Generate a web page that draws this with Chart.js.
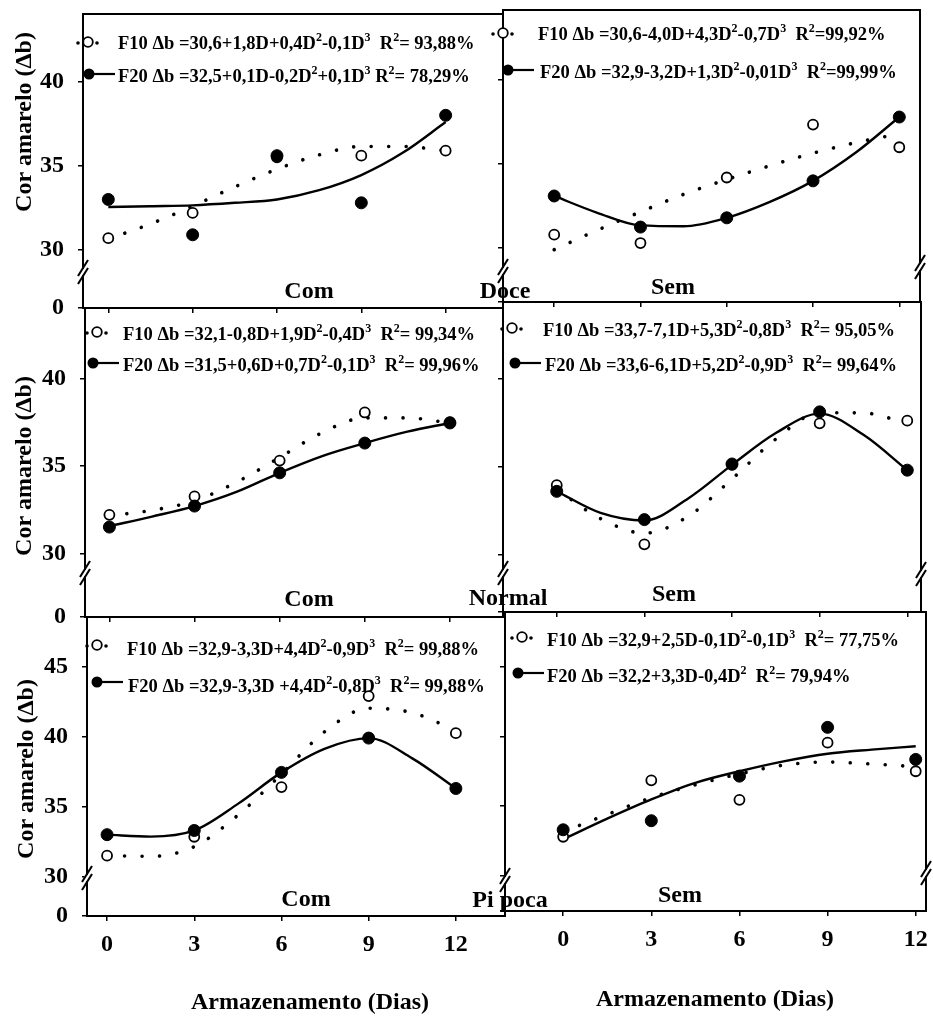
<!DOCTYPE html>
<html><head><meta charset="utf-8">
<script src="https://cdn.jsdelivr.net/npm/chart.js@4.4.1/dist/chart.umd.min.js"></script>
<style>
html,body{margin:0;padding:0;background:#fff;}
#wrap{position:relative;width:933px;height:1017px;overflow:hidden;background:#fff;}
#wrap canvas{position:absolute;left:0;top:0;}
</style></head><body><div id="wrap"></div>
<script>
// ---------------- data ----------------
const days = [0, 3, 6, 9, 12];
const fitDays = [0, 1.5, 3, 4.5, 6, 7.5, 9, 10.5, 12];
const xTickValues = [0, 3, 6, 9, 12];
const xTickLabels = ['0', '3', '6', '9', '12'];
const yTickValues = [30, 35, 40];
const yTickValuesPipoca = [30, 35, 40, 45];
const yBreakLabel = '0';

const groupNames = ['Doce', 'Normal', 'Pi poca'];
const treatmentNames = ['Com', 'Sem'];
const yAxisTitle = 'Cor amarelo (\u0394b)';
const xAxisTitle = 'Armazenamento (Dias)';

// Doce - Com
const doceComF10 = [30.7, 32.2, 35.5, 35.6, 35.9];
const doceComF20 = [33.0, 30.9, 35.6, 32.8, 38.0];
const doceComF10Fit = [30.65, 31.55, 32.6, 33.75, 34.8, 35.65, 36.15, 36.15, 35.9];
const doceComF20Fit = [32.55, 32.6, 32.65, 32.8, 33.0, 33.55, 34.45, 35.8, 37.6];
const legendDoceCom = ['F10 \u0394b =30,6+1,8D+0,4D\u00b2-0,1D\u00b3  R\u00b2= 93,88%',
                       'F20 \u0394b =32,5+0,1D-0,2D\u00b2+0,1D\u00b3 R\u00b2= 78,29%'];
// Doce - Sem
const doceSemF10 = [30.8, 30.3, 34.2, 37.35, 36.0];
const doceSemF20 = [33.1, 31.25, 31.8, 34.0, 37.8];
const doceSemF10Fit = [29.9, 31.07, 32.15, 33.2, 34.08, 34.9, 35.65, 36.28, 36.8];
const doceSemF20Fit = [33.1, 32.1, 31.35, 31.3, 31.8, 32.75, 34.0, 35.7, 37.8];
const legendDoceSem = ['F10 \u0394b =30,6-4,0D+4,3D\u00b2-0,7D\u00b3  R\u00b2=99,92%',
                       'F20 \u0394b =32,9-3,2D+1,3D\u00b2-0,01D\u00b3  R\u00b2=99,99%'];
// Normal - Com
const normalComF10 = [32.2, 33.25, 35.3, 38.05, 37.5];
const normalComF20 = [31.5, 32.7, 34.6, 36.3, 37.45];
const normalComF10Fit = [32.15, 32.46, 33.0, 34.08, 35.48, 36.9, 37.74, 37.74, 37.45];
const normalComF20Fit = [31.55, 32.1, 32.7, 33.52, 34.6, 35.56, 36.3, 36.95, 37.45];
const legendNormalCom = ['F10 \u0394b =32,1-0,8D+1,9D\u00b2-0,4D\u00b3  R\u00b2= 99,34%',
                         'F20 \u0394b =31,5+0,6D+0,7D\u00b2-0,1D\u00b3  R\u00b2= 99,96%'];
// Normal - Sem
const normalSemF10 = [33.95, 30.6, 35.1, 37.45, 37.6];
const normalSemF20 = [33.6, 32.0, 35.15, 38.1, 34.8];
const normalSemF10Fit = [33.7, 32.06, 31.23, 32.19, 34.3, 36.56, 38.05, 38.04, 37.45];
const normalSemF20Fit = [33.6, 32.38, 31.95, 33.2, 35.1, 36.9, 38.0, 36.8, 34.8];
const legendNormalSem = ['F10 \u0394b =33,7-7,1D+5,3D\u00b2-0,8D\u00b3  R\u00b2= 95,05%',
                         'F20 \u0394b =33,6-6,1D+5,2D\u00b2-0,9D\u00b3  R\u00b2= 99,64%'];
// Pipoca - Com
const pipocaComF10 = [31.5, 32.85, 36.4, 42.9, 40.25];
const pipocaComF20 = [33.0, 33.3, 37.45, 39.9, 36.3];
const pipocaComF10Fit = [31.5, 31.45, 32.15, 34.39, 37.33, 40.38, 42.03, 41.71, 40.45];
const pipocaComF20Fit = [33.0, 32.86, 33.3, 35.2, 37.45, 39.15, 39.9, 38.45, 36.3];
const legendPipocaCom = ['F10 \u0394b =32,9-3,3D+4,4D\u00b2-0,9D\u00b3  R\u00b2= 99,88%',
                         'F20 \u0394b =32,9-3,3D +4,4D\u00b2-0,8D\u00b3  R\u00b2= 99,88%'];
// Pipoca - Sem
const pipocaSemF10 = [32.8, 36.85, 35.45, 39.55, 37.5];
const pipocaSemF20 = [33.3, 33.95, 37.15, 40.65, 38.35];
const pipocaSemF10Fit = [33.15, 34.4, 35.6, 36.53, 37.31, 37.94, 38.16, 38.02, 37.83];
const pipocaSemF20Fit = [32.62, 34.1, 35.48, 36.67, 37.5, 38.21, 38.76, 39.05, 39.29];
const legendPipocaSem = ['F10 \u0394b =32,9+2,5D-0,1D\u00b2-0,1D\u00b3  R\u00b2= 77,75%',
                         'F20 \u0394b =32,2+3,3D-0,4D\u00b2  R\u00b2= 79,94%'];

// ---------------- layout / style ----------------
const FONT = '"Liberation Serif", "Times New Roman", serif';
Chart.defaults.font.family = FONT;
Chart.defaults.color = '#000';

const panels = [
  { area: [83, 14, 503, 308], xr: [-0.9, 14.04], yr: [26.55, 44.02], yTicks: yTickValues,
    yLabels: true, xLabels: false, right: false,
    f10: doceComF10, f20: doceComF20, f10Fit: doceComF10Fit, f20Fit: doceComF20Fit,
    legend: legendDoceCom, leg: [[88, 42, 118, 43], [89, 74, 118, 76]],
    label: [treatmentNames[0], 309, 298], breakL: 272, breakR: 271,
    yTitle: [25, 122] },
  { area: [503, 10, 920, 302], xr: [-1.78, 12.72], yr: [26.79, 44.17], yTicks: yTickValues,
    yLabels: false, xLabels: false, right: true,
    f10: doceSemF10, f20: doceSemF20, f10Fit: doceSemF10Fit, f20Fit: doceSemF20Fit,
    legend: legendDoceSem, leg: [[503, 33, 538, 34], [508, 70, 540, 72]],
    label: [treatmentNames[1], 673, 294], group: [groupNames[0], 505, 298],
    breakL: 271, breakR: 267 },
  { area: [85, 308, 503, 617], xr: [-0.86, 13.87], yr: [26.36, 44.02], yTicks: yTickValues,
    yLabels: true, xLabels: false, right: false,
    f10: normalComF10, f20: normalComF20, f10Fit: normalComF10Fit, f20Fit: normalComF20Fit,
    legend: legendNormalCom, leg: [[97, 332, 123, 334], [93, 363, 123, 365]],
    label: [treatmentNames[0], 309, 606], breakL: 573, breakR: 573,
    yTitle: [25, 466] },
  { area: [503, 302, 921, 612], xr: [-1.84, 12.47], yr: [26.77, 44.32], yTicks: yTickValues,
    yLabels: false, xLabels: false, right: true,
    f10: normalSemF10, f20: normalSemF20, f10Fit: normalSemF10Fit, f20Fit: normalSemF20Fit,
    legend: legendNormalSem, leg: [[512, 328, 543, 330], [515, 363, 545, 365]],
    label: [treatmentNames[1], 674, 601], group: [groupNames[1], 508, 605],
    breakL: 573, breakR: 574 },
  { area: [87, 617, 505, 916], xr: [-0.69, 13.69], yr: [27.19, 48.55], yTicks: yTickValuesPipoca,
    yLabels: true, xLabels: true, right: false,
    f10: pipocaComF10, f20: pipocaComF20, f10Fit: pipocaComF10Fit, f20Fit: pipocaComF20Fit,
    legend: legendPipocaCom, leg: [[97, 645, 127, 649], [97, 682, 128, 686]],
    label: [treatmentNames[0], 306, 906], breakL: 878, breakR: 880,
    yTitle: [27, 769], xTitle: [310, 1009] },
  { area: [505, 612, 927, 911], xr: [-1.98, 12.35], yr: [27.47, 48.93], yTicks: yTickValuesPipoca,
    yLabels: false, xLabels: true, right: true,
    f10: pipocaSemF10, f20: pipocaSemF20, f10Fit: pipocaSemF10Fit, f20Fit: pipocaSemF20Fit,
    legend: legendPipocaSem, leg: [[522, 637, 547, 640], [518, 673, 547, 676]],
    label: [treatmentNames[1], 680, 902], group: [groupNames[2], 510, 907],
    breakL: 880, breakR: 873, xTitle: [715, 1006] }
];

function pts(xs, ys) { return xs.map((x, i) => ({ x: x, y: ys[i] })); }

function drawRich(ctx, str, x, baseY, size) {
  const sup = { '\u00b2': '2', '\u00b3': '3' };
  const runs = [];
  let cur = '';
  for (const ch of str) {
    if (sup[ch]) { if (cur) runs.push([cur, false]); cur = ''; runs.push([sup[ch], true]); }
    else cur += ch;
  }
  if (cur) runs.push([cur, false]);
  let cx = x;
  ctx.textAlign = 'left';
  ctx.textBaseline = 'alphabetic';
  for (const [t, isSup] of runs) {
    const s = isSup ? Math.round(size * 0.66) : size;
    ctx.font = 'bold ' + s + 'px ' + FONT;
    ctx.fillText(t, cx, isSup ? baseY - size * 0.42 : baseY);
    cx += ctx.measureText(t).width;
  }
}

function breakAt(ctx, x, y, slash) {
  ctx.fillStyle = '#fff';
  ctx.fillRect(x - 2.5, y - 3, 5, 6);
  if (!slash) return;
  ctx.strokeStyle = '#000';
  ctx.lineWidth = 2;
  [-4, 4].forEach(dy => {
    ctx.beginPath();
    ctx.moveTo(x - 5, y + dy + 8);
    ctx.lineTo(x + 5, y + dy - 8);
    ctx.stroke();
  });
}

const panelDecor = {
  id: 'panelDecor',
  afterDraw(chart, args, p) {
    const ctx = chart.ctx;
    const { left, top, right, bottom } = chart.chartArea;
    ctx.save();
    ctx.strokeStyle = '#000';
    ctx.lineWidth = 2;
    ctx.strokeRect(left, top, right - left, bottom - top);
    // axis breaks
    breakAt(ctx, left, p.breakL, true);
    breakAt(ctx, right, p.breakR, p.right);
    // legend
    p.leg.forEach((g, k) => {
      const [mx, my, tx, ty] = g;
      ctx.fillStyle = '#000';
      ctx.strokeStyle = '#000';
      if (k === 0) {
        [mx - 10, mx + 9].forEach(dx => { ctx.beginPath(); ctx.arc(dx, my + 1, 1.8, 0, Math.PI * 2); ctx.fill(); });
        ctx.beginPath(); ctx.arc(mx, my, 4.8, 0, Math.PI * 2);
        ctx.fillStyle = '#fff'; ctx.fill(); ctx.lineWidth = 1.8; ctx.stroke();
      } else {
        ctx.lineWidth = 2.2;
        ctx.beginPath(); ctx.moveTo(mx, my); ctx.lineTo(mx + 26, my); ctx.stroke();
        ctx.beginPath(); ctx.arc(mx, my, 5.5, 0, Math.PI * 2); ctx.fill();
      }
      ctx.fillStyle = '#000';
      drawRich(ctx, p.legend[k], tx, ty + 6, 18.5);
    });
    // treatment / group labels
    ctx.fillStyle = '#000';
    ctx.textAlign = 'center';
    ctx.textBaseline = 'alphabetic';
    ctx.font = 'bold 24px ' + FONT;
    ctx.fillText(p.label[0], p.label[1], p.label[2]);
    if (p.group) ctx.fillText(p.group[0], p.group[1], p.group[2]);
    // axis titles
    if (p.yTitle) {
      ctx.save();
      ctx.translate(p.yTitle[0], p.yTitle[1]);
      ctx.rotate(-Math.PI / 2);
      ctx.textBaseline = 'middle';
      ctx.fillText(yAxisTitle, 0, 0);
      ctx.restore();
    }
    if (p.xTitle) {
      ctx.fillText(xAxisTitle, p.xTitle[0], p.xTitle[1]);
    }
    ctx.restore();
  }
};

const W = 933, H = 1017;
const wrap = document.getElementById('wrap');
panels.forEach(p => {
  const c = document.createElement('canvas');
  c.width = W; c.height = H;
  c.style.width = W + 'px'; c.style.height = H + 'px';
  wrap.appendChild(c);
  const [l, t, r, b] = p.area;
  const Wy = p.yLabels ? l : 12;
  const Hx = p.xLabels ? 40 : 6;
  new Chart(c, {
    type: 'scatter',
    data: {
      datasets: [
        { label: 'F20', data: pts(days, p.f20), showLine: false, pointRadius: 6, pointBackgroundColor: '#000',
          pointBorderColor: '#000', pointBorderWidth: 1, borderColor: '#000', backgroundColor: '#000', order: 0 },
        { label: 'F10', data: pts(days, p.f10), showLine: false, pointRadius: 5, pointBackgroundColor: '#fff',
          pointBorderColor: '#000', pointBorderWidth: 1.8, borderColor: '#000', backgroundColor: '#fff', order: 1 },
        { label: 'F20 ajuste', data: pts(fitDays, p.f20Fit), showLine: true, pointRadius: 0, borderColor: '#000',
          borderWidth: 2.4, cubicInterpolationMode: 'monotone', order: 2 },
        { label: 'F10 ajuste', data: pts(fitDays, p.f10Fit), showLine: true, pointRadius: 0, borderColor: '#000',
          borderWidth: 3.6, borderDash: [0.01, 17.5], borderCapStyle: 'round', cubicInterpolationMode: 'monotone', order: 3 }
      ]
    },
    options: {
      responsive: false, animation: false, devicePixelRatio: 1, events: [],
      layout: { padding: { left: l - Wy, top: t, right: W - r, bottom: H - b - Hx } },
      plugins: { legend: { display: false }, tooltip: { enabled: false }, panelDecor: p },
      scales: {
        x: {
          type: 'linear', position: 'bottom', min: p.xr[0], max: p.xr[1],
          grid: { display: true, drawOnChartArea: false, drawTicks: true, tickLength: 5, color: '#000', lineWidth: 1.5 },
          border: { display: false },
          ticks: { display: p.xLabels, padding: 9, color: '#000', autoSkip: false, maxRotation: 0,
                   font: { size: 24, weight: 'bold' }, callback: (v, i) => xTickLabels[i] },
          afterBuildTicks: s => { s.ticks = xTickValues.map(v => ({ value: v })); },
          afterFit: s => { s.height = Hx; s.paddingLeft = 0; s.paddingRight = 0; }
        },
        y: {
          type: 'linear', position: 'left', min: p.yr[0], max: p.yr[1],
          grid: { display: true, drawOnChartArea: false, drawTicks: true, tickLength: 5, color: '#000', lineWidth: 1.5 },
          border: { display: false },
          ticks: { display: p.yLabels, padding: 14, color: '#000', autoSkip: false,
                   font: { size: 24, weight: 'bold' },
                   callback: (v, i) => i === 0 ? yBreakLabel : String(v) },
          afterBuildTicks: s => { s.ticks = [s.min].concat(p.yTicks).map(v => ({ value: v })); },
          afterFit: s => { s.width = Wy; s.paddingTop = 0; s.paddingBottom = 0; }
        }
      }
    },
    plugins: [panelDecor]
  });
});
</script>
</body></html>
